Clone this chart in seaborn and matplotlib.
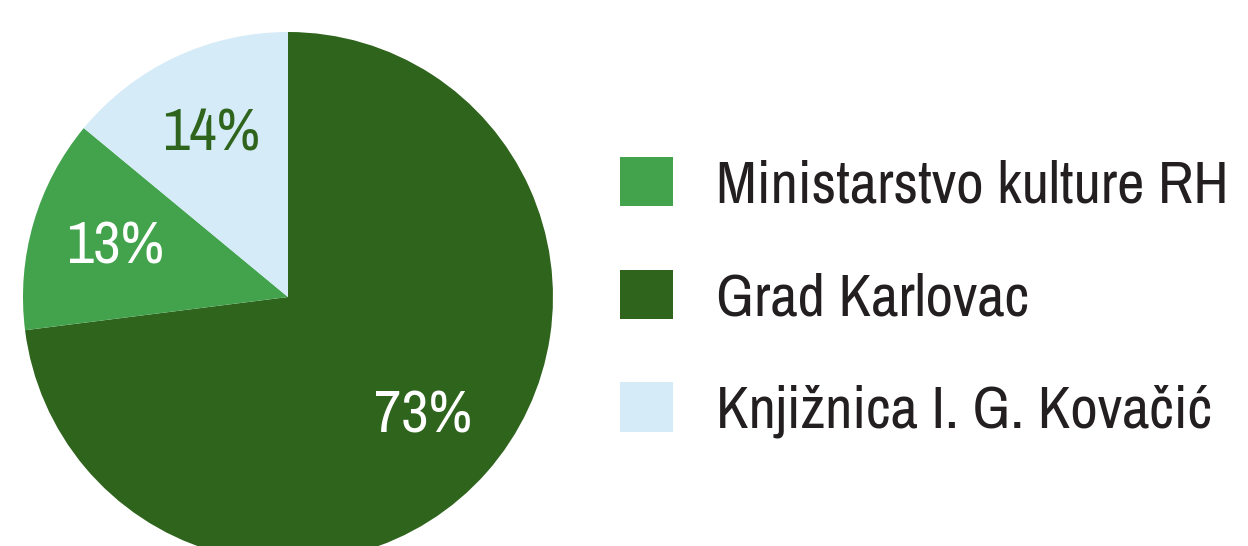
import matplotlib.pyplot as plt
import seaborn as sns
from matplotlib.patches import Patch

# podaci (udjeli financiranja)
pie_labels = ["Grad Karlovac", "Ministarstvo kulture RH", "Knjižnica I. G. Kovačić"]
pie_values = [73, 13, 14]
pie_colors = ["#2f641d", "#43a34d", "#d5ebf8"]
pct_colors = ["white", "white", "#2f641d"]

legend_order = ["Ministarstvo kulture RH", "Grad Karlovac", "Knjižnica I. G. Kovačić"]

sns.set_style("white")
plt.rcParams['font.family'] = ['Archivo Narrow', 'Roboto Condensed', 'DejaVu Sans']

fig = plt.figure(figsize=(12.48, 5.46), dpi=100)
ax = fig.add_axes([0.0184, -0.0293, 0.4247, 0.9707])

wedges, texts, autotexts = ax.pie(
    pie_values, colors=pie_colors, startangle=90, counterclock=False,
    autopct="%d%%", pctdistance=0.68, radius=1,
    wedgeprops=dict(linewidth=0), textprops=dict(fontsize=43, color="#231f20"))
for t, c in zip(autotexts, pct_colors):
    t.set_color(c)
ax.set_xlim(-1, 1)
ax.set_ylim(-1, 1)
ax.set_aspect("equal")

handles = [Patch(facecolor=pie_colors[pie_labels.index(l)], linewidth=0, label=l)
           for l in legend_order]
leg = fig.legend(handles=handles, loc="center left", bbox_to_anchor=(0.497, 0.455),
                 frameon=False, fontsize=43, handlelength=0.88, handleheight=0.9,
                 handletextpad=0.72, labelspacing=0.96, borderpad=0, borderaxespad=0)
for t in leg.get_texts():
    t.set_color("#231f20")

fig.savefig("out.png", dpi=100)
